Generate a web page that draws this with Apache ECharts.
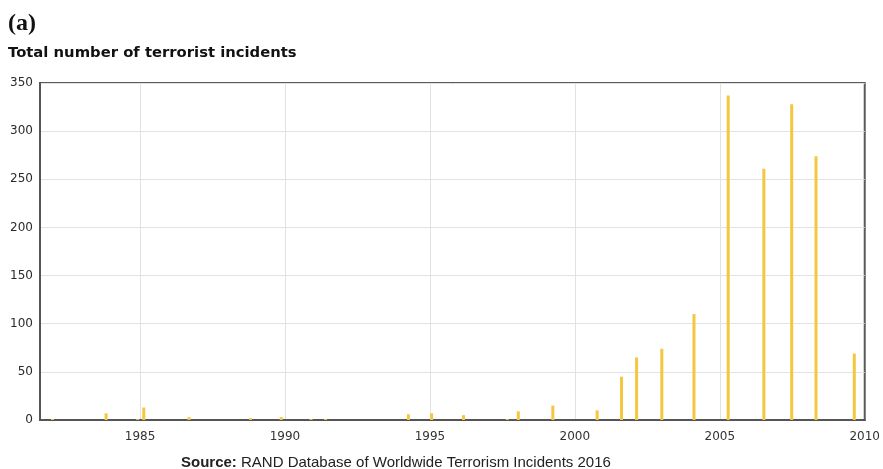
<!DOCTYPE html>
<html>
<head>
<meta charset="utf-8">
<script src="https://cdn.jsdelivr.net/npm/echarts@6/dist/echarts.min.js"></script>
<style>
  html, body { margin: 0; padding: 0; background: #fff; }
  #chart { width: 883px; height: 469px; }
</style>
</head>
<body>
<div id="chart"></div>
<script>
// Incident dates (decimal years) and yearly incident counts
const eventYears = [1981.98, 1983.83, 1984.92, 1985.13, 1986.69, 1988.81, 1989.87, 1990.90, 1991.40,
  1994.26, 1995.06, 1996.16, 1997.67, 1998.05, 1999.24, 2000.77, 2001.61, 2002.13, 2003.00,
  2004.11, 2005.29, 2006.52, 2007.48, 2008.32, 2009.64];
const incidents = [1, 7, 1, 13, 3, 2, 3, 1, 1,
  6, 7, 5, 1, 9, 15, 10, 45, 65, 74,
  110, 337, 261, 328, 274, 69];
const yearTicks = [1985, 1990, 1995, 2000, 2005, 2010];
const countTicks = [0, 50, 100, 150, 200, 250, 300, 350];

const chart = echarts.init(document.getElementById('chart'));

chart.setOption({
  animation: false,
  backgroundColor: '#ffffff',
  title: [
    {
      text: '(a)', left: 3, top: 7,
      textStyle: { fontFamily: 'Liberation Serif', fontWeight: 'bold', fontSize: 24, color: '#111' }
    },
    {
      text: 'Total number of terrorist incidents', left: 3, top: 41,
      textStyle: { fontFamily: 'DejaVu Sans', fontWeight: 'bold', fontSize: 14.8, color: '#111' }
    },
    {
      text: '{b|Source:} RAND Database of Worldwide Terrorism Incidents 2016',
      left: 176, top: 450,
      textStyle: {
        fontFamily: 'Liberation Sans', fontWeight: 'normal', fontSize: 15, color: '#222',
        rich: { b: { fontFamily: 'Liberation Sans', fontWeight: 'bold', fontSize: 15, color: '#222' } }
      }
    }
  ],
  grid: {
    left: 40, right: 16, top: 83, bottom: 49,
    show: true, borderColor: '#5a5a5a', borderWidth: 2, backgroundColor: '#fff'
  },
  xAxis: {
    type: 'value',
    min: 1981.55, max: 2010,
    axisLine: { show: true, lineStyle: { color: '#555', width: 2 } },
    axisTick: { show: false },
    splitLine: { show: false },
    axisLabel: {
      customValues: yearTicks,
      color: '#333', fontFamily: 'DejaVu Sans', fontSize: 12, margin: 11,
      formatter: v => String(Math.round(v))
    }
  },
  yAxis: {
    type: 'value',
    min: 0, max: 350, interval: 50,
    axisLine: { show: true, lineStyle: { color: '#555', width: 2 } },
    axisTick: { show: false },
    splitLine: { show: true, lineStyle: { color: '#e2e2e2', width: 1 } },
    axisLabel: {
      color: '#2a2a2a', fontFamily: 'DejaVu Sans', fontSize: 12, margin: 7,
      formatter: v => countTicks.includes(v) ? String(v) : ''
    }
  },
  series: [
    {
      type: 'bar',
      barWidth: 3,
      itemStyle: { color: '#f5c740' },
      data: eventYears.map((y, i) => [y, incidents[i]]),
      markLine: {
        silent: true,
        symbol: 'none',
        label: { show: false },
        lineStyle: { color: '#e2e2e2', width: 1, type: 'solid' },
        z: 0,
        data: yearTicks.slice(0, -1).map(y => ({ xAxis: y }))
      }
    }
  ]
});
</script>
</body>
</html>
